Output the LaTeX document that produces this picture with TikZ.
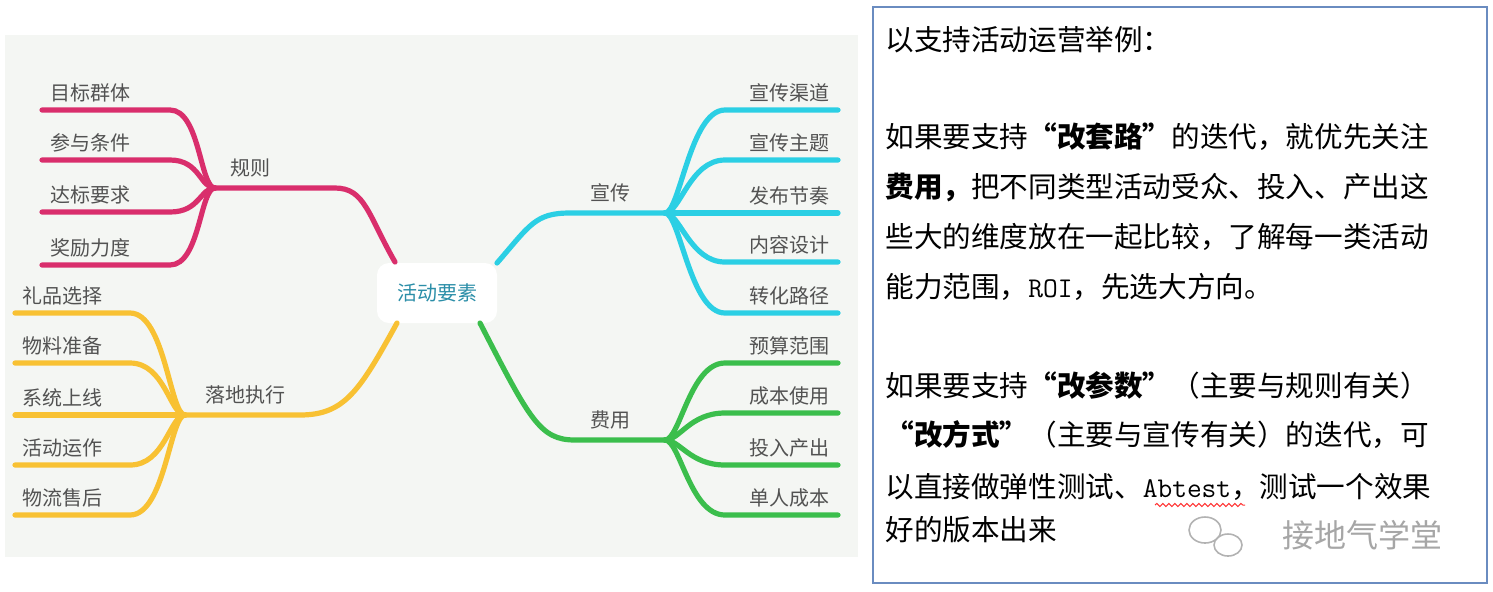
\documentclass[tikz,border=0pt]{standalone}
\usepackage{fontspec}
\setmainfont{Liberation Serif}
\newfontfamily\cjk{Noto Sans CJK SC}
\usetikzlibrary{decorations.pathmorphing}
\definecolor{guize}{HTML}{D92E6C}
\definecolor{xuanchuan}{HTML}{2BCFE4}
\definecolor{feiyong}{HTML}{3BBE4C}
\definecolor{luodi}{HTML}{F8C133}
\definecolor{panel}{HTML}{F4F6F3}
\definecolor{frame}{HTML}{6A8CC0}
\definecolor{roottext}{HTML}{2B8EA8}
\begin{document}
\begin{tikzpicture}[x=0.5pt,y=-0.5pt,
  branch/.style={line width=2.6pt,line cap=round},
  leaf/.style={font=\cjk\fontsize{10}{12}\selectfont,text=black!68,inner sep=0pt},
  line/.style={font=\cjk\fontsize{14.3}{16}\selectfont,anchor=west,inner sep=0pt}]
\useasboundingbox (0,0) rectangle (1493,591);
\fill[panel] (5,35) rectangle (858,557);
\node[fill=white,rounded corners=6pt,minimum width=60pt,minimum height=30pt,font=\cjk\fontsize{10}{12}\selectfont,text=roottext] (root) at (437,293) {活动要素};
\coordinate (ra) at (395,262);
\coordinate (rb) at (397,323);
\coordinate (rc) at (497,263);
\coordinate (rd) at (480,323);
\coordinate (hr) at (215,188);
\coordinate (hl) at (185,415);
\coordinate (hx) at (665,213);
\coordinate (hf) at (665,440);
% main branches
\draw[branch,guize] (ra) .. controls (368,215) and (365,188) .. (335,188) -- (hr);
\draw[branch,luodi] (rb) .. controls (360,390) and (345,415) .. (300,415) -- (hl);
\draw[branch,xuanchuan] (rc) .. controls (530,225) and (535,213) .. (570,213) -- (hx);
\draw[branch,feiyong] (rd) .. controls (530,420) and (540,440) .. (575,440) -- (hf);
\node[leaf] (nr) at (250,168) {规则};
\node[leaf] (nl) at (245,395) {落地执行};
\node[leaf] (nx) at (610,193) {宣传};
\node[leaf] (nf) at (610,420) {费用};
% leaves
\foreach \ly/\txt in {110/目标群体,160/参与条件,212/达标要求,265/奖励力度}{
  \draw[branch,guize] (hr) .. controls (200,188) and (200,\ly) .. (170,\ly) -- (42,\ly);
  \node[leaf,anchor=west] (r\ly) at (50,\ly-17) {\txt};}
\foreach \ly/\txt in {313/礼品选择,363/物料准备,415/系统上线,465/活动运作,515/物流售后}{
  \draw[branch,luodi] (hl) .. controls (170,415) and (165,\ly) .. (130,\ly) -- (15,\ly);
  \node[leaf,anchor=west] (l\ly) at (22,\ly-17) {\txt};}
\foreach \ly/\txt in {110/宣传渠道,160/宣传主题,213/发布节奏,262/内容设计,313/转化路径}{
  \draw[branch,xuanchuan] (hx) .. controls (680,213) and (690,\ly) .. (725,\ly) -- (838,\ly);
  \node[leaf,anchor=east] (x\ly) at (830,\ly-17) {\txt};}
\foreach \ly/\txt in {363/预算范围,413/成本使用,465/投入产出,515/单人成本}{
  \draw[branch,feiyong] (hf) .. controls (680,440) and (690,\ly) .. (725,\ly) -- (838,\ly);
  \node[leaf,anchor=east] (f\ly) at (830,\ly-17) {\txt};}
% text box
\draw[frame,line width=1pt] (873,7) rectangle (1487,583);
\node[line] (t1) at (885,40) {以支持活动运营举例：};
\node[line] (t2) at (885,137) {如果要支持\textbf{“改套路”}的迭代，就优先关注};
\node[line] (t3) at (885,187) {\textbf{费用，}把不同类型活动受众、投入、产出这};
\node[line] (t4) at (885,237) {些大的维度放在一起比较，了解每一类活动};
\node[line] (t5) at (885,287) {能力范围，\texttt{ROI}，先选大方向。};
\node[line] (t6) at (885,385) {如果要支持\textbf{“改参数”}（主要与规则有关）};
\node[line] (t7) at (885,435) {\textbf{“改方式”}（主要与宣传有关）的迭代，可};
\node[line] (t8) at (885,487) {以直接做弹性测试、\texttt{Abtest}，测试一个效果};
\node[line] (t9) at (885,530) {好的版本出来};
\draw[red!80,line width=0.5pt,decorate,decoration={snake,amplitude=0.8pt,segment length=3pt}] (1155,505) -- (1245,505);
% watermark
\draw[black!30,line width=0.8pt] (1205,530) ellipse (16 and 13);
\draw[black!30,line width=0.8pt] (1228,545) ellipse (14 and 11);
\node[font=\cjk\fontsize{16}{18}\selectfont,text=black!35,inner sep=0pt] (wm) at (1362,535) {接地气学堂};
\end{tikzpicture}
\end{document}
